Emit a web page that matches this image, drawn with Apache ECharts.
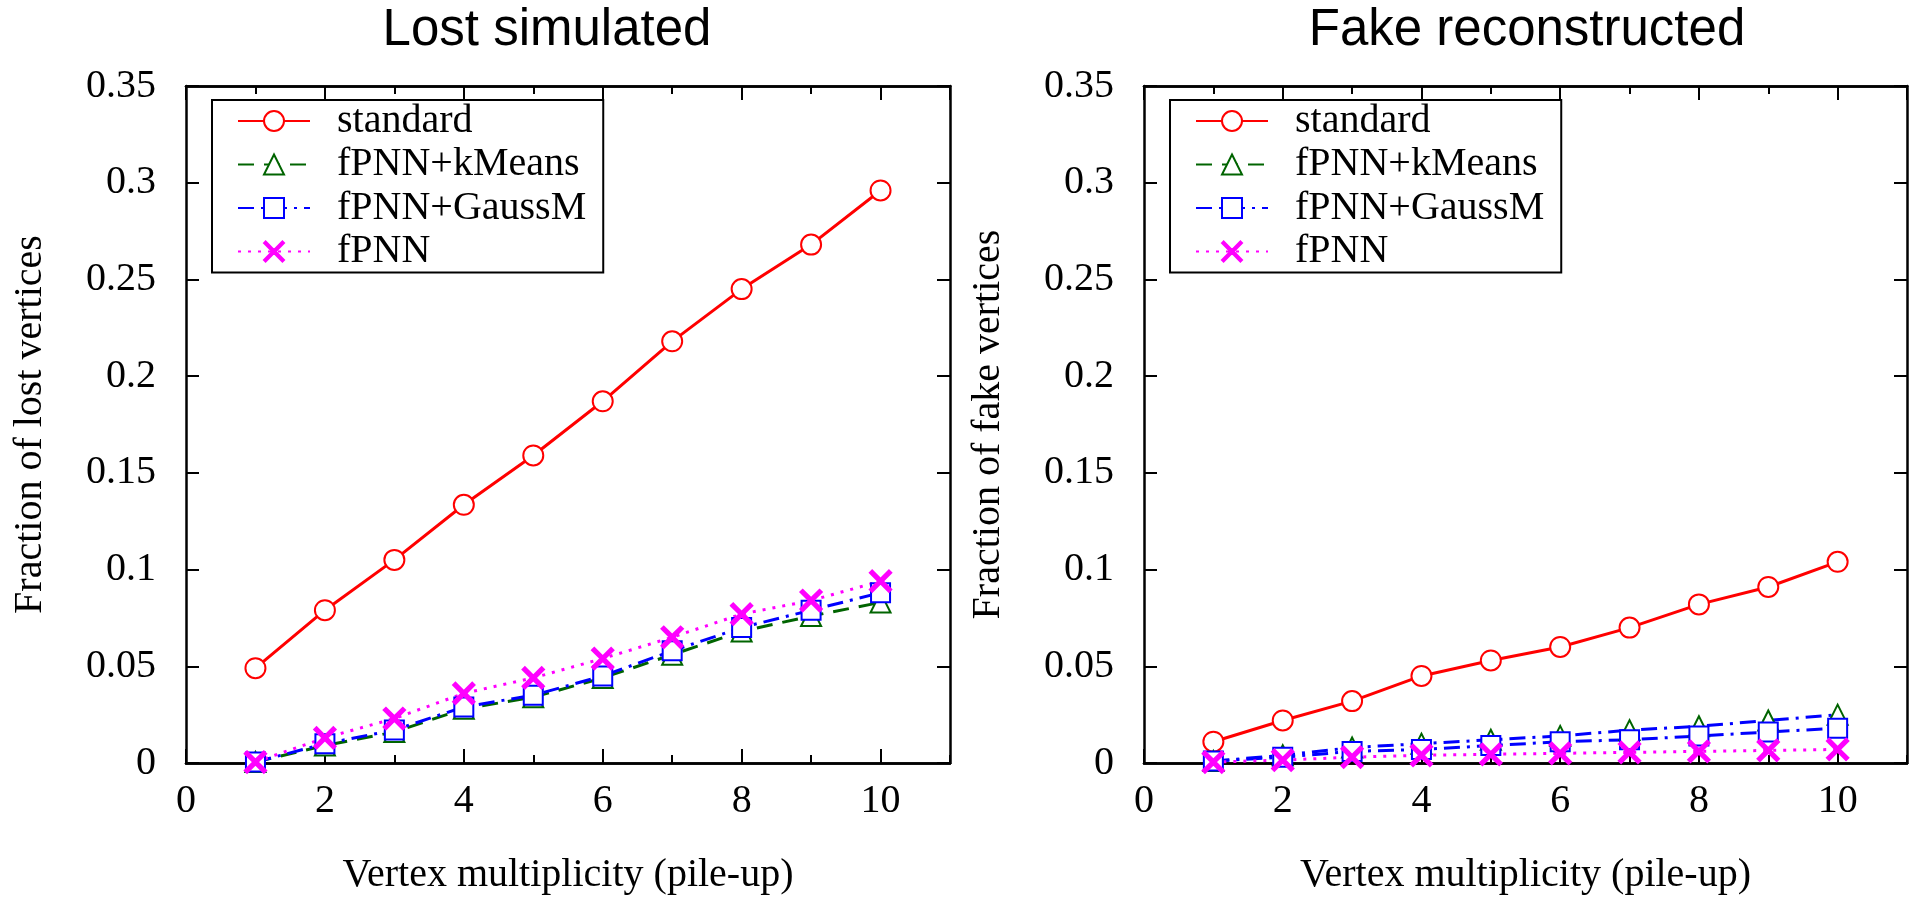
<!DOCTYPE html>
<html>
<head>
<meta charset="utf-8">
<script src="https://cdn.jsdelivr.net/npm/echarts@6/dist/echarts.min.js"></script>
<style>
  html, body { margin: 0; padding: 0; background: #fff; }
  #chart { width: 1917px; height: 900px; }
</style>
</head>
<body>
<div id="chart"></div>
<script>
// pile-up values on x
var multiplicity = [1, 2, 3, 4, 5, 6, 7, 8, 9, 10];
var seriesNames = ['standard', 'fPNN+kMeans', 'fPNN+GaussM', 'fPNN'];

// Lost simulated
var lostStandard = [0.049, 0.079, 0.105, 0.1335, 0.159, 0.187, 0.218, 0.245, 0.268, 0.296];
var lostKMeans   = [0.0005, 0.009, 0.016, 0.028, 0.034, 0.044, 0.056, 0.068, 0.076, 0.083];
var lostGaussM   = [0.0005, 0.010, 0.017, 0.029, 0.035, 0.045, 0.058, 0.070, 0.079, 0.088];
var lostFPNN     = [0.0005, 0.013, 0.023, 0.036, 0.044, 0.054, 0.065, 0.077, 0.084, 0.094];

// Fake reconstructed
var fakeStandard = [0.011, 0.022, 0.032, 0.045, 0.053, 0.060, 0.070, 0.082, 0.091, 0.104];
var fakeKMeans   = [0.001, 0.004, 0.008, 0.010, 0.012, 0.014, 0.017, 0.019, 0.022, 0.025];
var fakeGaussM   = [0.001, 0.003, 0.006, 0.007, 0.009, 0.011, 0.012, 0.014, 0.016, 0.018];
var fakeFPNN     = [0.0005, 0.0015, 0.003, 0.004, 0.0045, 0.005, 0.0055, 0.006, 0.0065, 0.007];

var RED = '#ff0000', GREEN = '#006400', BLUE = '#0000ff', MAGENTA = '#ff00ff';
var serif = '"Liberation Serif", "DejaVu Serif", serif';
var sans = '"Liberation Sans", "DejaVu Sans", sans-serif';
var crossPath = 'path://M0,1.6L1.6,0L10,8.4L18.4,0L20,1.6L11.6,10L20,18.4L18.4,20L10,11.6L1.6,20L0,18.4L8.4,10Z';

function pairs(ys) {
  return multiplicity.map(function (x, i) { return [x, ys[i]]; });
}

var grids = [
  { left: 186, top: 86, width: 764, height: 678 },
  { left: 1144, top: 86, width: 763, height: 678 }
];

var axisLine = { show: true, onZero: false, lineStyle: { color: '#000', width: 2.5 } };
var xAxes = [], yAxes = [];
[0, 1].forEach(function (g) {
  // labelled bottom axis, long ticks on even numbers
  xAxes.push({
    gridIndex: g, type: 'value', min: 0, max: 11, interval: 2, position: 'bottom',
    name: 'Vertex multiplicity (pile-up)', nameLocation: 'middle', nameGap: 92,
    nameTextStyle: { fontFamily: serif, fontSize: 40, color: '#000' },
    axisLine: axisLine,
    axisTick: { show: true, inside: true, length: 14, lineStyle: { color: '#000', width: 2 } },
    axisLabel: { fontFamily: serif, fontSize: 40, color: '#000', margin: 18, showMaxLabel: false },
    splitLine: { show: false }
  });
  // short ticks on every integer, bottom and top
  ['bottom', 'top'].forEach(function (pos) {
    xAxes.push({
      gridIndex: g, type: 'value', min: 0, max: 11, interval: 1, position: pos,
      axisLine: axisLine,
      axisTick: { show: true, inside: true, length: 8, lineStyle: { color: '#000', width: 2 } },
      axisLabel: { show: false }, splitLine: { show: false }
    });
  });
  // long ticks on top
  xAxes.push({
    gridIndex: g, type: 'value', min: 0, max: 11, interval: 2, position: 'top',
    axisLine: axisLine,
    axisTick: { show: true, inside: true, length: 14, lineStyle: { color: '#000', width: 2 } },
    axisLabel: { show: false }, splitLine: { show: false }
  });

  yAxes.push({
    gridIndex: g, type: 'value', min: 0, max: 0.35, interval: 0.05, position: 'left',
    name: g === 0 ? 'Fraction of lost vertices' : 'Fraction of fake vertices',
    nameLocation: 'middle', nameGap: 136,
    nameTextStyle: { fontFamily: serif, fontSize: 40, color: '#000' },
    axisLine: axisLine,
    axisTick: { show: true, inside: true, length: 13, lineStyle: { color: '#000', width: 2 } },
    axisLabel: { fontFamily: serif, fontSize: 40, color: '#000', margin: 30 },
    splitLine: { show: false }
  });
  yAxes.push({
    gridIndex: g, type: 'value', min: 0, max: 0.35, interval: 0.05, position: 'right',
    axisLine: axisLine,
    axisTick: { show: true, inside: true, length: 13, lineStyle: { color: '#000', width: 2 } },
    axisLabel: { show: false }, splitLine: { show: false }
  });
});

function makeSeries(g, name, ys, color, lineType, symbol, size, lineColor) {
  return {
    name: name, type: 'line', xAxisIndex: g * 4, yAxisIndex: g * 2,
    data: pairs(ys), symbol: symbol, symbolSize: size, showAllSymbol: true,
    clip: false, animation: false,
    lineStyle: { color: lineColor || color, width: 3, type: lineType },
    itemStyle: { color: color, borderColor: color, borderWidth: 3 }
  };
}

// small dot that gnuplot draws in the middle of each point
function makeDots(g, ys, color) {
  return {
    name: 'dot', type: 'scatter', xAxisIndex: g * 4, yAxisIndex: g * 2,
    data: pairs(ys), symbol: 'circle', symbolSize: 3, animation: false, silent: true,
    itemStyle: { color: color }
  };
}

var dashed = [16, 10];
var dashDot = [16, 7, 3, 7];
var dotted = [3, 7];
var series = [
  makeSeries(0, 'standard', lostStandard, RED, 'solid', 'emptyCircle', 20),
  makeSeries(0, 'fPNN+kMeans', lostKMeans, GREEN, dashed, 'emptyTriangle', 20),
  makeSeries(0, 'fPNN+GaussM', lostGaussM, BLUE, dashDot, 'emptyRect', 19),
  makeSeries(0, 'fPNN', lostFPNN, MAGENTA, dotted, crossPath, 20),
  makeSeries(1, 'standard', fakeStandard, RED, 'solid', 'emptyCircle', 20),
  makeSeries(1, 'fPNN+kMeans', fakeKMeans, GREEN, dashDot, 'emptyTriangle', 20, BLUE),
  makeSeries(1, 'fPNN+GaussM', fakeGaussM, BLUE, dashDot, 'emptyRect', 19),
  makeSeries(1, 'fPNN', fakeFPNN, MAGENTA, dotted, crossPath, 20),
  makeDots(0, lostStandard, RED), makeDots(0, lostKMeans, GREEN), makeDots(0, lostGaussM, BLUE),
  makeDots(1, fakeStandard, RED), makeDots(1, fakeKMeans, GREEN), makeDots(1, fakeGaussM, BLUE)
];

function makeLegend(left) {
  return {
    left: left, top: 100, orient: 'vertical',
    data: seriesNames.map(function (n, i) {
      var item = { name: n };
      if (i === 1) item.lineStyle = { color: GREEN, type: dashed };
      return item;
    }),
    backgroundColor: '#fff', borderColor: '#000', borderWidth: 2, borderRadius: 0,
    padding: [1, 17, 1, 25],
    itemWidth: 72, itemHeight: 25, itemGap: 3.5,
    textStyle: { fontFamily: serif, fontSize: 40, lineHeight: 40, color: '#000', padding: [0, 0, 0, 22] },
    selectedMode: false
  };
}

var option = {
  backgroundColor: '#fff',
  animation: false,
  title: [
    { text: 'Lost simulated', left: 542, top: 0, textAlign: 'center',
      textStyle: { fontFamily: sans, fontSize: 51, fontWeight: 'normal', color: '#000' } },
    { text: 'Fake reconstructed', left: 1522, top: 0, textAlign: 'center',
      textStyle: { fontFamily: sans, fontSize: 51, fontWeight: 'normal', color: '#000' } }
  ],
  legend: [makeLegend(212), makeLegend(1170)],
  grid: grids,
  xAxis: xAxes,
  yAxis: yAxes,
  series: series
};

var myChart = echarts.init(document.getElementById('chart'));
myChart.setOption(option);
</script>
</body>
</html>
